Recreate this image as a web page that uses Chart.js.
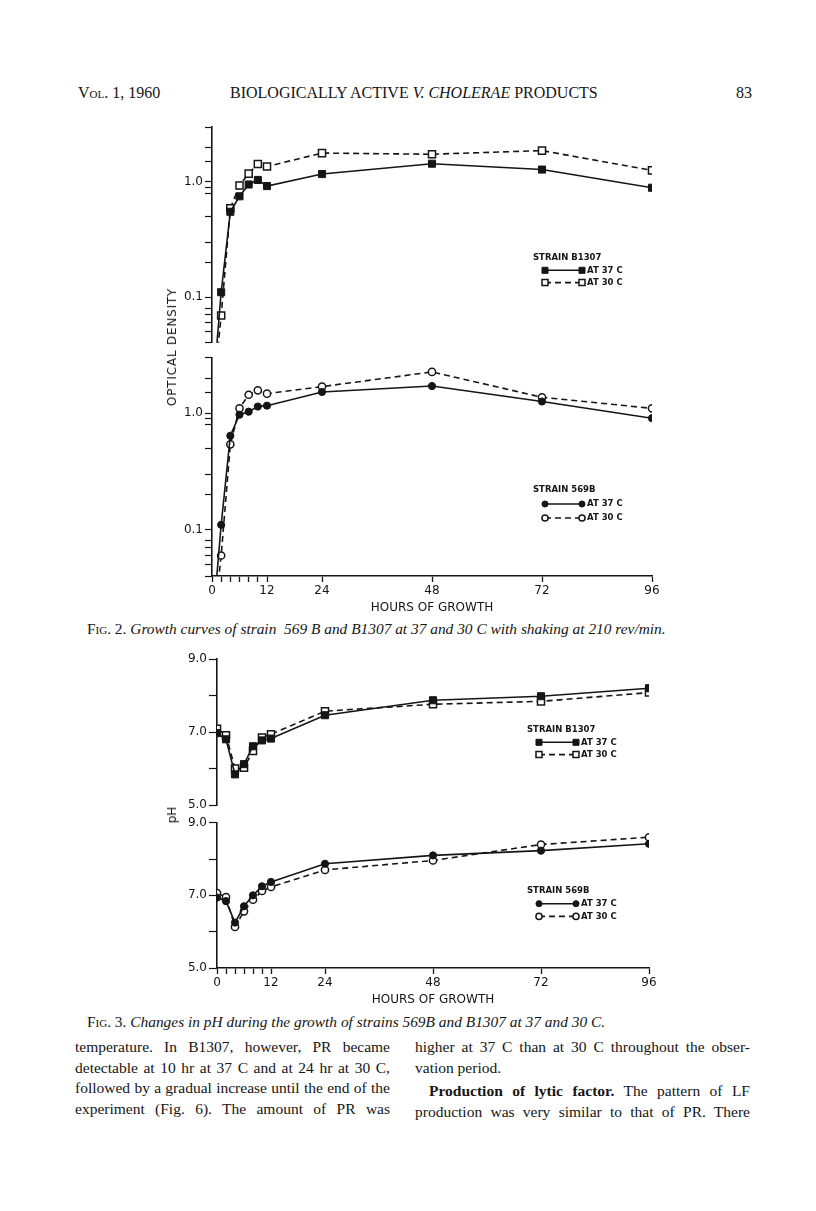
<!DOCTYPE html>
<html>
<head>
<meta charset="utf-8">
<script src="https://cdn.jsdelivr.net/npm/chart.js"></script>
<style>
  body { margin: 0; background: #fff; }
  #page { position: relative; width: 816px; height: 1211px; background: #fff; color: #151515; font-family: "Liberation Serif", serif; overflow: hidden; }
  .t { position: absolute; white-space: nowrap; }
  canvas { position: absolute; }
  .rot { position: absolute; transform: translate(-50%, -50%) rotate(-90deg); font-family: "DejaVu Sans", sans-serif; font-size: 12px; white-space: nowrap; }
  .col { position: absolute; font-size: 15.5px; line-height: 20.5px; }
  .col div { text-align: justify; text-align-last: justify; white-space: nowrap; }
  .col div.last { text-align-last: left; }
  .sc { font-variant: small-caps; }
</style>
</head>
<body>
<div id="page">
  <div class="t" style="left:78px; top:84px; font-size:16px;"><span class="sc">Vol.</span> 1, 1960</div>
  <div class="t" style="left:230px; top:84px; font-size:16px;">BIOLOGICALLY ACTIVE <i>V. CHOLERAE</i> PRODUCTS</div>
  <div class="t" style="left:736px; top:84px; font-size:16px;">83</div>

  <canvas id="odB1307" width="540" height="240" style="left:140px; top:115px;"></canvas>
  <canvas id="od569B" width="540" height="275" style="left:140px; top:345px;"></canvas>
  <div class="rot" style="left:172px; top:347px; letter-spacing:0.8px;">OPTICAL DENSITY</div>

  <div class="t" style="left:87px; top:620px; font-size:15.4px;"><span class="sc">Fig.</span> 2. <i>Growth curves of strain&nbsp; 569 B and B1307 at 37 and 30 C with shaking at 210 rev/min.</i></div>

  <canvas id="phB1307" width="540" height="170" style="left:140px; top:645px;"></canvas>
  <canvas id="ph569B" width="540" height="207" style="left:140px; top:805px;"></canvas>
  <div class="rot" style="left:172px; top:815px;">pH</div>

  <div class="t" style="left:87px; top:1013px; font-size:15.4px;"><span class="sc">Fig.</span> 3. <i>Changes in pH during the growth of strains 569B and B1307 at 37 and 30 C.</i></div>

  <div class="col" style="left:75px; top:1037px; width:315px;">
    <div>temperature. In B1307, however, PR became</div>
    <div>detectable at 10 hr at 37 C and at 24 hr at 30 C,</div>
    <div>followed by a gradual increase until the end of the</div>
    <div>experiment (Fig. 6). The amount of PR was</div>
  </div>
  <div class="col" style="left:415px; top:1037px; width:335px;">
    <div>higher at 37 C than at 30 C throughout the obser-</div>
    <div class="last">vation period.</div>
    <div style="margin-top:3px; padding-left:14px;"><b>Production of lytic factor.</b> The pattern of LF</div>
    <div>production was very similar to that of PR. There</div>
  </div>
</div>

<script>
// sampling times (hours of growth)
const hours = [0, 2, 4, 6, 8, 10, 12, 24, 48, 72, 96];

// Fig. 2 optical density
const odB1307At37 = [0.012, 0.11, 0.55, 0.75, 0.95, 1.04, 0.92, 1.17, 1.44, 1.28, 0.89];
const odB1307At30 = [0.011, 0.069, 0.59, 0.93, 1.18, 1.43, 1.36, 1.78, 1.74, 1.87, 1.26];
const od569BAt37 = [0.013, 0.11, 0.64, 0.97, 1.03, 1.14, 1.16, 1.52, 1.71, 1.26, 0.905];
const od569BAt30 = [0.011, 0.06, 0.54, 1.10, 1.44, 1.57, 1.47, 1.69, 2.26, 1.37, 1.10];

// Fig. 3 pH
const phB1307At37 = [6.97, 6.80, 5.84, 6.12, 6.61, 6.77, 6.82, 7.46, 7.87, 7.98, 8.20];
const phB1307At30 = [7.09, 6.91, 6.00, 6.02, 6.48, 6.85, 6.94, 7.57, 7.76, 7.84, 8.08];
const ph569BAt37 = [6.94, 6.84, 6.25, 6.70, 7.00, 7.25, 7.37, 7.87, 8.10, 8.23, 8.42];
const ph569BAt30 = [7.06, 6.95, 6.13, 6.56, 6.88, 7.12, 7.23, 7.70, 7.96, 8.40, 8.60];

// ticks
const hourTicks = [0, 2, 4, 6, 8, 10, 12, 24, 48, 72, 96];
const hourLabels = [0, 12, 24, 48, 72, 96];
const odTicks = [0.04, 0.05, 0.06, 0.07, 0.08, 0.1, 0.2, 0.3, 0.5, 0.8, 0.9, 1, 1.5, 2, 3];
const odLabels = { 0.1: '0.1', 1: '1.0' };
const phTicks = [5, 6, 7, 8, 9];
const phLabels = [5, 7, 9];

const ink = '#151515';
Chart.defaults.font.family = '"DejaVu Sans", sans-serif';
Chart.defaults.color = ink;

function series(label, values, style, open) {
  return {
    label: label,
    data: hours.map((h, i) => ({ x: h, y: values[i] })),
    borderColor: ink,
    borderWidth: 1.6,
    borderDash: open ? [6, 4] : [],
    pointStyle: style,
    pointRadius: style === 'rect' ? 5 : 3.6,
    pointBackgroundColor: open ? '#fff' : ink,
    pointBorderColor: ink,
    pointBorderWidth: open ? 1.5 : 1,
    tension: 0,
    fill: false
  };
}

const strainLegend = {
  id: 'strainLegend',
  afterDatasetsDraw(chart, args, opts) {
    const ctx = chart.ctx;
    ctx.save();
    ctx.textBaseline = 'middle';
    ctx.fillStyle = ink;
    ctx.font = 'bold 8.5px "DejaVu Sans"';
    ctx.fillText(opts.title, opts.x, opts.y);
    chart.data.datasets.forEach((ds, i) => {
      const y = opts.y + opts.gap * (i + 1);
      const x0 = opts.x + 12, x1 = opts.x + 49;
      ctx.strokeStyle = ink;
      ctx.lineWidth = ds.borderWidth;
      ctx.setLineDash(ds.borderDash);
      ctx.beginPath();
      ctx.moveTo(x0, y);
      ctx.lineTo(x1, y);
      ctx.stroke();
      ctx.setLineDash([]);
      const p = { pointStyle: ds.pointStyle, radius: ds.pointRadius * 0.85, borderWidth: ds.pointBorderWidth, rotation: 0 };
      ctx.fillStyle = ds.pointBackgroundColor;
      ctx.strokeStyle = ink;
      ctx.lineWidth = ds.pointBorderWidth;
      Chart.helpers.drawPoint(ctx, p, x0, y);
      Chart.helpers.drawPoint(ctx, p, x1, y);
      ctx.fillStyle = ink;
      ctx.font = 'bold 8.5px "DejaVu Sans"';
      ctx.fillText(ds.label, x1 + 5, y);
    });
    ctx.restore();
  }
};

function xAxis(show) {
  const axis = {
    type: 'linear', min: 0, max: 96, display: show,
    afterBuildTicks: s => { s.ticks = hourTicks.map(v => ({ value: v })); },
    grid: { drawOnChartArea: false, drawTicks: true, tickLength: 6, tickColor: ink, tickWidth: 1.3 },
    border: { color: ink, width: 1.6 },
    ticks: { callback: v => hourLabels.includes(v) ? String(v) : '', autoSkip: false, maxRotation: 0, padding: 2, font: { size: 12 }, color: ink },
    title: { display: true, text: 'HOURS OF GROWTH', font: { size: 12 }, padding: { top: 0, bottom: 5 }, color: ink }
  };
  if (show) axis.afterFit = s => { s.height = 44; };
  return axis;
}

function odAxis() {
  return {
    type: 'logarithmic', min: 0.04, max: 3,
    afterBuildTicks: s => { s.ticks = odTicks.map(v => ({ value: v })); },
    afterFit: s => { s.width = 72; },
    grid: { drawOnChartArea: false, drawTicks: true, tickLength: 7, tickColor: ink, tickWidth: 1.2 },
    border: { color: ink, width: 1.6 },
    ticks: { callback: v => odLabels[v] || '', autoSkip: false, padding: 2, font: { size: 12 }, color: ink }
  };
}

function phAxis() {
  return {
    type: 'linear', min: 5, max: 9,
    afterBuildTicks: s => { s.ticks = phTicks.map(v => ({ value: v })); },
    afterFit: s => { s.width = 77; },
    grid: { drawOnChartArea: false, drawTicks: true, tickLength: 8, tickColor: ink, tickWidth: 1.2 },
    border: { color: ink, width: 1.6 },
    ticks: { callback: v => phLabels.includes(v) ? v.toFixed(1) : '', autoSkip: false, padding: 2, font: { size: 12 }, color: ink }
  };
}

function panel(id, datasets, yScale, showX, padding, legend) {
  new Chart(document.getElementById(id), {
    type: 'line',
    data: { datasets: datasets },
    plugins: [strainLegend],
    options: {
      responsive: false,
      animation: false,
      layout: { padding: padding },
      plugins: { legend: { display: false }, tooltip: { enabled: false }, strainLegend: legend },
      scales: { x: xAxis(showX), y: yScale }
    }
  });
}

panel('odB1307', [
  series('AT 37 C', odB1307At37, 'rect', false),
  series('AT 30 C', odB1307At30, 'rect', true)
], odAxis(), false, { left: 0, top: 12, right: 28, bottom: 12.2 },
  { title: 'STRAIN B1307', x: 393, y: 143, gap: 12.3 });

panel('od569B', [
  series('AT 37 C', od569BAt37, 'circle', false),
  series('AT 30 C', od569BAt30, 'circle', true)
], odAxis(), true, { left: 0, top: 12.6, right: 28, bottom: 0 },
  { title: 'STRAIN 569B', x: 393, y: 145, gap: 14 });

panel('phB1307', [
  series('AT 37 C', phB1307At37, 'rect', false),
  series('AT 30 C', phB1307At30, 'rect', true)
], phAxis(), false, { left: 0, top: 14, right: 31, bottom: 10 },
  { title: 'STRAIN B1307', x: 387, y: 85, gap: 12.3 });

panel('ph569B', [
  series('AT 37 C', ph569BAt37, 'circle', false),
  series('AT 30 C', ph569BAt30, 'circle', true)
], phAxis(), true, { left: 0, top: 17.7, right: 31, bottom: 0 },
  { title: 'STRAIN 569B', x: 387, y: 86, gap: 12.7 });
</script>
</body>
</html>
